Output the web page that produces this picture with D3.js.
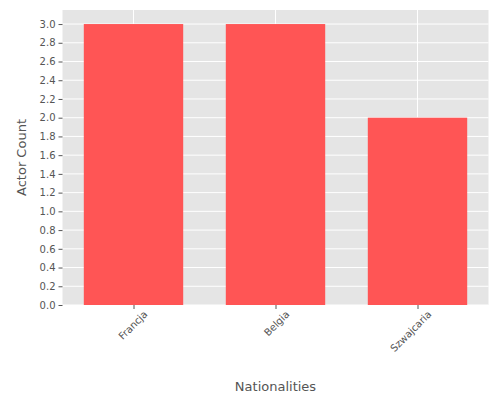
<!DOCTYPE html>
<html><head><meta charset="utf-8">
<script src="https://cdn.jsdelivr.net/npm/d3@7"></script>
<style>body{margin:0;background:#fff}</style></head>
<body><svg id="c" width="500" height="400"></svg>
<script>
const categories = ["Francja", "Belgia", "Szwajcaria"];
const values = [3, 3, 2];
const yTicks = d3.range(0, 3.01, 0.2);

const svg = d3.select("#c");
const L = 62.5, R = 488.5, T = 10, B = 305;
const x = d3.scaleLinear().domain([-0.5, 2.5]).range([L, R]);
const y = d3.scaleLinear().domain([0, 3.15]).range([B, T]);
const font = "DejaVu Sans, sans-serif";

svg.append("rect").attr("x", L).attr("y", T).attr("width", R - L).attr("height", B - T).attr("fill", "#E5E5E5");
svg.append("g").selectAll("line").data(yTicks).join("line")
  .attr("x1", L).attr("x2", R).attr("y1", d => y(d)).attr("y2", d => y(d))
  .attr("stroke", "#fff").attr("stroke-width", 1);
svg.append("g").selectAll("line").data(categories).join("line")
  .attr("x1", (d, i) => x(i)).attr("x2", (d, i) => x(i)).attr("y1", T).attr("y2", B)
  .attr("stroke", "#fff").attr("stroke-width", 1);

svg.append("g").selectAll("rect").data(values).join("rect")
  .attr("x", (d, i) => x(i - 0.35)).attr("width", x(0.7) - x(0))
  .attr("y", d => y(d)).attr("height", d => B - y(d)).attr("fill", "#FF5555");

const yAxis = svg.append("g").attr("transform", `translate(${L},0)`)
  .call(d3.axisLeft(y).tickValues(yTicks).tickFormat(d3.format(".1f")).tickSize(4).tickPadding(3));
yAxis.select(".domain").remove();
yAxis.selectAll("line").attr("stroke", "#555");
yAxis.selectAll("text").attr("fill", "#555").style("font-family", font).style("font-size", "10px");

const xAxis = svg.append("g").attr("transform", `translate(0,${B})`)
  .call(d3.axisBottom(x).tickValues([0, 1, 2]).tickFormat(i => categories[i]).tickSize(4));
xAxis.select(".domain").remove();
xAxis.selectAll("line").attr("stroke", "#555");
xAxis.selectAll("text").attr("fill", "#555").style("font-family", font).style("font-size", "10px")
  .attr("text-anchor", "end").attr("dx", "3").attr("dy", "10")
  .attr("transform", "rotate(-45)");

svg.append("text").attr("x", (L + R) / 2).attr("y", 391).attr("text-anchor", "middle")
  .attr("fill", "#555").style("font-family", font).style("font-size", "13px").text("Nationalities");
svg.append("text").attr("transform", `translate(26,${(T + B) / 2}) rotate(-90)`).attr("text-anchor", "middle")
  .attr("fill", "#555").style("font-family", font).style("font-size", "13px").text("Actor Count");
</script></body></html>
